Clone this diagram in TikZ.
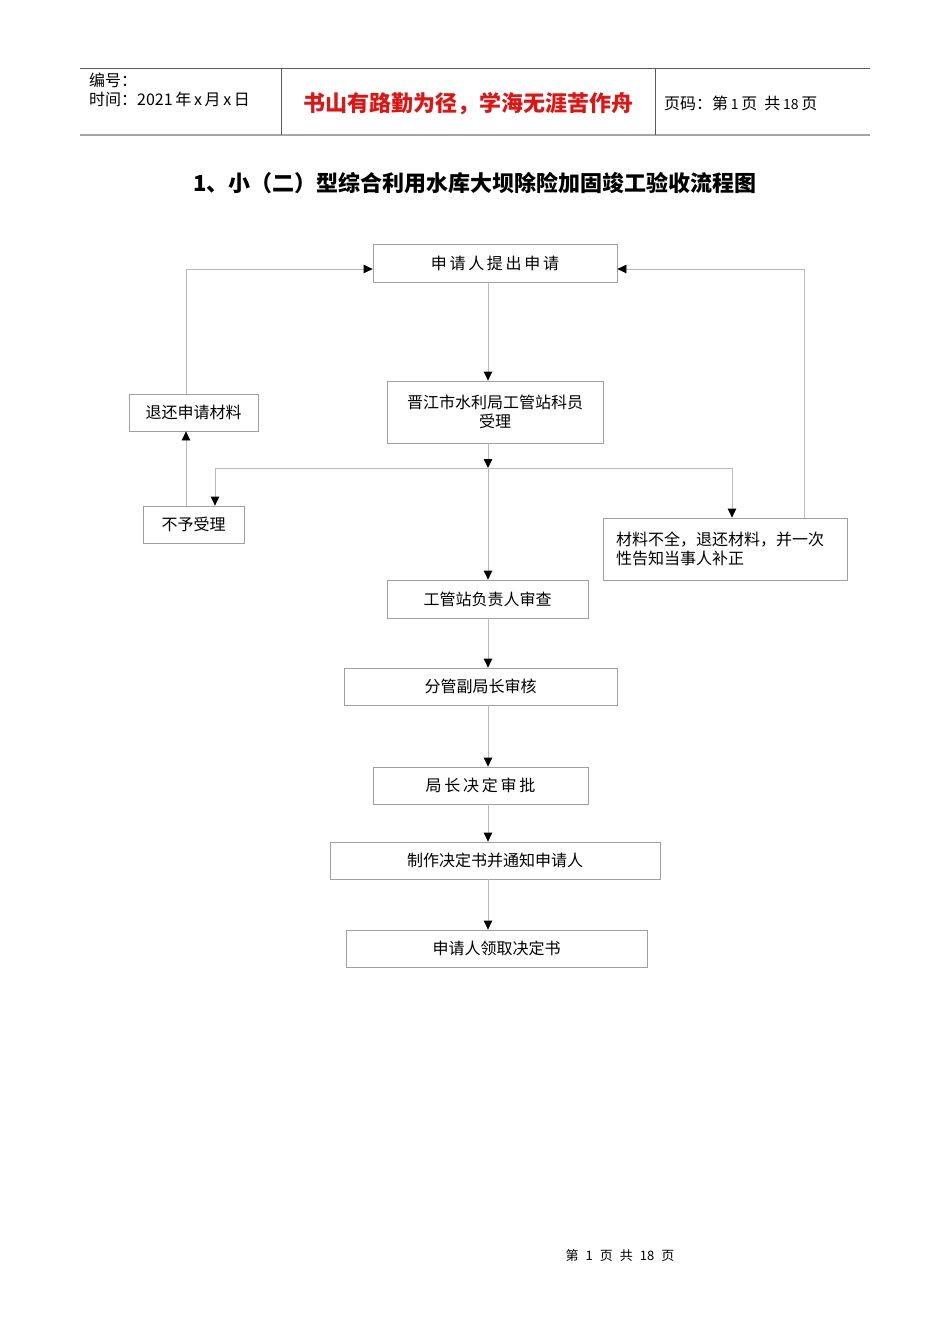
\documentclass[tikz,border=0pt]{standalone}
\usepackage{fontspec}
\usepackage{xcolor}
\usetikzlibrary{positioning, arrows.meta, calc}
\newfontfamily\cjk{Noto Sans CJK SC}
\newfontfamily\cjkwide[LetterSpace=17]{Noto Sans CJK SC}
\definecolor{HdRed}{RGB}{225,20,20}
\definecolor{LnGray}{RGB}{185,185,185}
\definecolor{BxGray}{RGB}{160,160,160}
\definecolor{HdGray}{RGB}{90,90,90}

\begin{document}
\begin{tikzpicture}[x=1pt, y=-1pt,
          box/.style={rectangle, draw=BxGray, line width=0.8pt, minimum height=38,
                      inner sep=0pt, align=center,
                      font=\cjk\fontsize{16}{19}\selectfont},
          arr/.style={-{Triangle[length=9pt, width=8.5pt, color=black]},
                      draw=LnGray, line width=0.8pt},
          plain/.style={draw=LnGray, line width=0.8pt}
        ]
        \useasboundingbox (0,0) rectangle (950,1344);

        % Header
        \draw[HdGray, line width=0.7pt] (80,68) -- (870,68);
        \draw[gray!70, line width=1.8pt] (80,135) -- (870,135);
        \draw[HdGray, line width=0.7pt] (281,68) -- (281,135);
        \draw[HdGray, line width=0.7pt] (655,68) -- (655,135);
        \node[font=\cjk\fontsize{16}{18}\selectfont, anchor=west, inner sep=0]
              (hdno) at (89,80) {编号：};
        \node[font=\cjk\fontsize{16}{18}\selectfont, anchor=west, inner sep=0]
              (hddate) at (89,99) {时间：2021\,年\,x\,月\,x\,日};
        \node[font=\cjk\bfseries\fontsize{22}{24}\selectfont, HdRed, inner sep=0]
              (motto) at (468,104) {书山有路勤为径，学海无涯苦作舟};
        \node[font=\cjk\fontsize{16}{18}\selectfont, anchor=west, inner sep=0]
              (hdpage) at (664,103) {页码：第\,{\fontsize{14}{16}\selectfont 1}\,页\ \ 共\,{\fontsize{14}{16}\selectfont 18}\,页};

        % Title
        \node[font=\cjk\bfseries\fontsize{22}{24}\selectfont, inner sep=0]
              (title) at (475,183) {1、小（二）型综合利用水库大坝除险加固竣工验收流程图};

        % Boxes
        \node[box, minimum width=244, font=\cjkwide\fontsize{16}{19}\selectfont]
              (req) at (495,263) {申请人提出申请};
        \node[box, minimum width=216, minimum height=62]
              (accept) at (495,412) {晋江市水利局工管站科员\\受理};
        \node[box, minimum width=129, minimum height=37]
              (retmat) at (193.5,412.5) {退还申请材料};
        \node[box, minimum width=101, minimum height=37]
              (reject) at (193.5,524.5) {不予受理};
        \node[box, minimum width=244, minimum height=62, text width=218, align=left]
              (incomplete) at (725,549) {材料不全，退还材料，并一次\\性告知当事人补正};
        \node[box, minimum width=201]
              (review) at (487.5,599) {工管站负责人审查};
        \node[box, minimum width=273, minimum height=37]
              (vicedir) at (480.5,686.5) {分管副局长审核};
        \node[box, minimum width=215, minimum height=37, font=\cjkwide\fontsize{16}{19}\selectfont]
              (approve) at (480.5,785.5) {局长决定审批};
        \node[box, minimum width=330, minimum height=37]
              (notice) at (495,860.5) {制作决定书并通知申请人};
        \node[box, minimum width=301, minimum height=37]
              (collect) at (496.5,948.5) {申请人领取决定书};

        % Connectors
        \coordinate (spine) at (488,0);
        \coordinate (split) at (488,468);
        \coordinate (splitL) at (215,468);
        \coordinate (splitR) at (732,468);
        \coordinate (backL) at (186,269);
        \coordinate (backR) at (804,269);

        \draw[arr] (req.south -| spine) -- (accept.north -| spine);
        \draw[arr] (accept.south -| spine) -- (split);
        \draw[plain] (splitL) -- (splitR);
        \draw[arr] (splitL) -- (splitL |- reject.north);
        \draw[arr] (splitR) -- (splitR |- incomplete.north);
        \draw[arr] (split) -- (review.north -| spine);
        \draw[arr] (reject.north -| backL) -- (retmat.south -| backL);
        \draw[arr] (retmat.north -| backL) -- (backL) -- (backL -| req.west);
        \draw[arr] (incomplete.north -| backR) -- (backR) -- (backR -| req.east);
        \foreach \a/\b in {review/vicedir, vicedir/approve, approve/notice, notice/collect}
          \draw[arr] (\a.south -| spine) -- (\b.north -| spine);

        % Footer
        \node[font=\cjk\fontsize{13}{16}\selectfont, inner sep=0]
              (footer) at (620,1256) {第\hspace{7pt}1\hspace{7pt}页\hspace{7pt}共\hspace{7pt}18\hspace{7pt}页};
      \end{tikzpicture}
\end{document}
